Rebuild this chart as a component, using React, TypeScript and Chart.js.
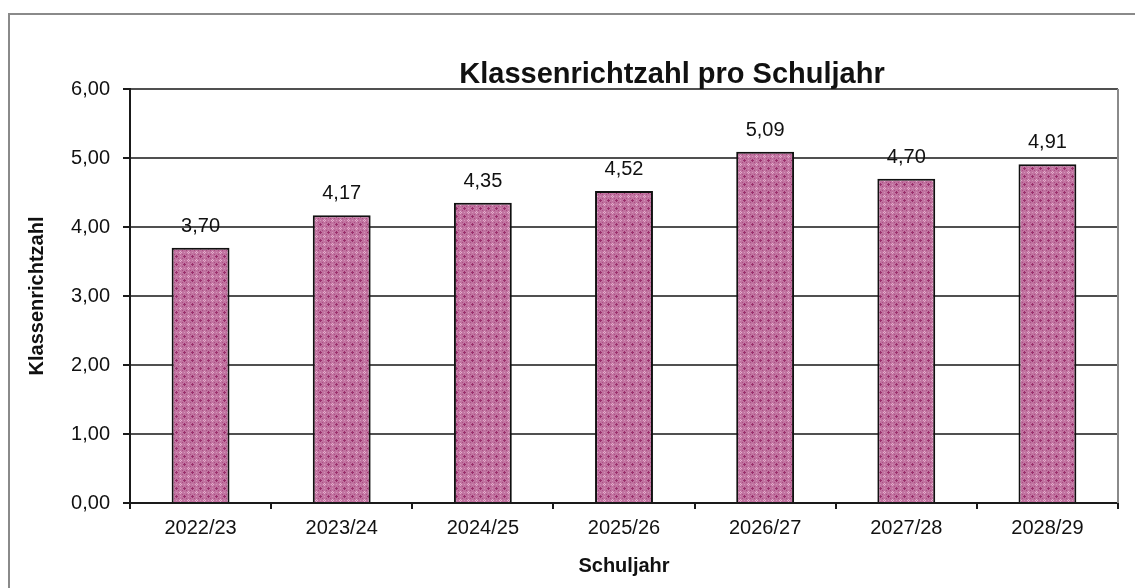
import React, { useEffect, useRef } from "react";
import { Chart, registerables } from "chart.js";

Chart.register(...registerables);

const categories = ["2022/23", "2023/24", "2024/25", "2025/26", "2026/27", "2027/28", "2028/29"];
const values = [3.7, 4.17, 4.35, 4.52, 5.09, 4.7, 4.91];
const yTickValues = [0, 1, 2, 3, 4, 5, 6];
const chartTitle = "Klassenrichtzahl pro Schuljahr";
const yAxisTitle = "Klassenrichtzahl";
const xAxisTitle = "Schuljahr";

const FONT = "'Liberation Sans', Arial, sans-serif";
const fmt = (v: number) => v.toFixed(2).replace(".", ",");

function makePattern(): CanvasPattern | string {
  const c = document.createElement("canvas");
  c.width = 8;
  c.height = 8;
  const g = c.getContext("2d");
  if (!g) return "#c0709c";
  g.fillStyle = "#c173a0";
  g.fillRect(0, 0, 8, 8);
  const px = (pts: number[][], col: string) => {
    g.fillStyle = col;
    pts.forEach(([x, y]) => g.fillRect(x, y, 1, 1));
  };
  px([[0, 0], [1, 0], [7, 0], [0, 1], [0, 7]], "#9a306c");
  px([[2, 2], [6, 2], [2, 6], [6, 6]], "#ab4e85");
  px([[4, 3], [3, 4], [5, 4], [4, 5]], "#e4aecd");
  px([[4, 0], [0, 4]], "#d492b9");
  return g.createPattern(c, "repeat") || "#c0709c";
}

const framePlugin = {
  id: "frame",
  beforeDraw(chart: any) {
    const { ctx, width, height } = chart;
    ctx.save();
    ctx.fillStyle = "#ffffff";
    ctx.fillRect(0, 0, width, height);
    ctx.strokeStyle = "#8a8a8a";
    ctx.lineWidth = 2;
    ctx.beginPath();
    ctx.moveTo(9, height + 5);
    ctx.lineTo(9, 14);
    ctx.lineTo(width + 5, 14);
    ctx.stroke();
    ctx.restore();
  },
  beforeDatasetsDraw(chart: any) {
    const { ctx, chartArea } = chart;
    ctx.save();
    ctx.strokeStyle = "#8a8a8a";
    ctx.lineWidth = 2;
    ctx.beginPath();
    ctx.moveTo(chartArea.right, chartArea.top);
    ctx.lineTo(chartArea.right, chartArea.bottom);
    ctx.stroke();
    ctx.restore();
  },
  afterDraw(chart: any) {
    const { ctx } = chart;
    ctx.save();
    ctx.font = `bold 29px ${FONT}`;
    ctx.fillStyle = "#111111";
    ctx.textAlign = "center";
    ctx.textBaseline = "alphabetic";
    ctx.fillText(chartTitle, 672, 83);
    ctx.restore();
  },
};

const labelPlugin = {
  id: "valueLabels",
  afterDatasetsDraw(chart: any) {
    const { ctx } = chart;
    const meta = chart.getDatasetMeta(0);
    ctx.save();
    ctx.font = `20px ${FONT}`;
    ctx.fillStyle = "#111111";
    ctx.textAlign = "center";
    ctx.textBaseline = "alphabetic";
    meta.data.forEach((el: any, i: number) => {
      ctx.fillText(fmt(values[i]), el.x, el.y - 16);
    });
    ctx.restore();
  },
};

export default function App() {
  const ref = useRef<HTMLCanvasElement | null>(null);

  useEffect(() => {
    if (!ref.current) return;
    const pattern = makePattern();
    const chart = new Chart(ref.current, {
      type: "bar",
      data: {
        labels: categories,
        datasets: [
          {
            data: values,
            backgroundColor: pattern as any,
            borderColor: "#111111",
            borderWidth: 2,
            barPercentage: 0.41,
            categoryPercentage: 1,
          },
        ],
      },
      options: {
        responsive: false,
        animation: false,
        devicePixelRatio: 1,
        layout: { padding: { left: 0, top: 89, right: 17, bottom: 0 } },
        plugins: {
          legend: { display: false },
          title: { display: false },
          tooltip: { enabled: false },
        },
        scales: {
          x: {
            offset: true,
            afterFit: (s: any) => {
              s.height = 85;
              s.paddingLeft = 0;
              s.paddingRight = 0;
            },
            border: { display: true, color: "#1a1a1a", width: 2 },
            grid: {
              offset: true,
              drawOnChartArea: false,
              drawTicks: true,
              tickLength: 6,
              tickColor: "#1a1a1a",
              tickWidth: 2,
              lineWidth: 2,
            },
            ticks: {
              font: { family: FONT, size: 20 },
              color: "#111111",
              padding: 7,
              maxRotation: 0,
              autoSkip: false,
            },
            title: {
              display: true,
              text: xAxisTitle,
              color: "#111111",
              font: { family: FONT, size: 20, weight: "bold" },
              padding: { top: 0, bottom: 10 },
            },
          },
          y: {
            min: 0,
            max: 6,
            afterBuildTicks: (s: any) => {
              s.ticks = yTickValues.map((v) => ({ value: v }));
            },
            afterFit: (s: any) => {
              s.width = 130;
              s.paddingTop = 0;
              s.paddingBottom = 0;
            },
            border: { display: true, color: "#1a1a1a", width: 2 },
            grid: {
              color: "#505050",
              lineWidth: 2,
              drawTicks: true,
              tickLength: 7,
              tickColor: "#1a1a1a",
              tickWidth: 2,
            },
            ticks: {
              font: { family: FONT, size: 20 },
              color: "#111111",
              padding: 13,
              callback: (v: any) => fmt(Number(v)),
            },
            title: {
              display: true,
              text: yAxisTitle,
              color: "#111111",
              font: { family: FONT, size: 20, weight: "bold" },
              padding: { top: 25, bottom: 0 },
            },
          },
        },
      } as any,
      plugins: [framePlugin, labelPlugin],
    });
    return () => chart.destroy();
  }, []);

  return (
    <div style={{ position: "fixed", left: 0, top: 0, width: 1135, height: 588, background: "#fff" }}>
      <canvas ref={ref} width={1135} height={588} style={{ display: "block", width: 1135, height: 588 }} />
    </div>
  );
}
